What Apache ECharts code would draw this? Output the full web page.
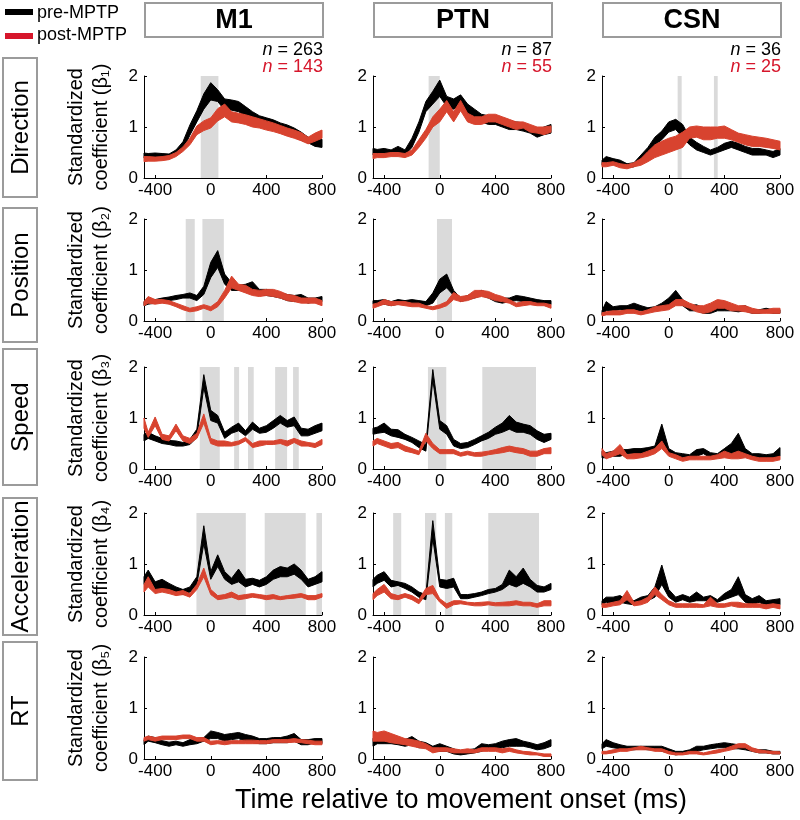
<!DOCTYPE html>
<html><head><meta charset="utf-8">
<script src="https://cdn.jsdelivr.net/npm/echarts@6/dist/echarts.min.js"></script>
<style>html,body{margin:0;padding:0;background:#fff}#c{width:800px;height:820px}</style>
</head><body><div id="c"></div>
<script>
// ---------- data ----------
const times = [-480,-450,-400,-350,-300,-250,-200,-150,-100,-50,0,50,100,150,200,250,300,350,400,450,500,550,600,650,700,750,800];
const xTickValues = [-400, 0, 400, 800];
const regions = ['M1', 'PTN', 'CSN'];
const variables = ['Direction', 'Position', 'Speed', 'Acceleration', 'RT'];
const betaLabels = ['β₁', 'β₂', 'β₃', 'β₄', 'β₅'];
const nPre = [263, 87, 36];
const nPost = [143, 55, 25];
const legendLabels = ['pre-MPTP', 'post-MPTP'];
const xTitle = 'Time relative to movement onset (ms)';

// bands: [lower, upper] at each time
const m1DirectionPre = [[0.39,0.49],[0.40,0.48],[0.41,0.49],[0.40,0.48],[0.40,0.47],[0.44,0.55],[0.55,0.71],[0.84,1.04],[1.10,1.32],[1.35,1.65],[1.53,1.87],[1.50,1.73],[1.33,1.55],[1.33,1.53],[1.30,1.50],[1.22,1.40],[1.10,1.30],[1.02,1.22],[1.00,1.18],[0.98,1.14],[0.92,1.08],[0.87,1.04],[0.80,0.98],[0.74,0.90],[0.69,0.80],[0.62,0.76],[0.60,0.76]];
const m1DirectionPost = [[0.32,0.42],[0.33,0.42],[0.33,0.41],[0.34,0.42],[0.36,0.44],[0.42,0.50],[0.52,0.61],[0.65,0.78],[0.85,1.02],[0.93,1.12],[0.98,1.18],[1.12,1.36],[1.20,1.45],[1.10,1.30],[1.08,1.27],[1.05,1.24],[1.00,1.20],[0.98,1.16],[0.94,1.12],[0.91,1.08],[0.87,1.03],[0.82,0.98],[0.78,0.94],[0.73,0.89],[0.67,0.80],[0.72,0.88],[0.78,0.94]];
const ptnDirectionPre = [[0.45,0.58],[0.48,0.56],[0.48,0.58],[0.48,0.55],[0.50,0.62],[0.45,0.55],[0.60,0.78],[0.90,1.10],[1.30,1.50],[1.45,1.70],[1.60,1.92],[1.40,1.60],[1.35,1.55],[1.42,1.63],[1.25,1.45],[1.18,1.35],[1.10,1.25],[1.05,1.22],[1.05,1.20],[1.00,1.15],[0.95,1.12],[0.95,1.10],[0.92,1.08],[0.88,1.02],[0.80,0.95],[0.85,1.00],[0.88,1.05]];
const ptnDirectionPost = [[0.38,0.48],[0.40,0.48],[0.40,0.48],[0.42,0.50],[0.42,0.50],[0.40,0.48],[0.45,0.55],[0.60,0.75],[0.78,0.95],[1.00,1.20],[1.10,1.35],[1.30,1.52],[1.10,1.30],[1.32,1.52],[1.10,1.27],[1.05,1.20],[1.05,1.20],[1.10,1.25],[1.10,1.25],[1.05,1.20],[1.00,1.15],[0.95,1.10],[0.98,1.10],[0.90,1.05],[0.88,1.00],[0.85,1.00],[0.90,1.02]];
const csnDirectionPre = [[0.25,0.35],[0.30,0.42],[0.28,0.38],[0.25,0.35],[0.20,0.28],[0.22,0.30],[0.30,0.45],[0.45,0.60],[0.65,0.80],[0.75,0.92],[0.90,1.10],[0.95,1.15],[0.80,1.05],[0.65,0.80],[0.55,0.70],[0.50,0.62],[0.45,0.55],[0.50,0.60],[0.55,0.68],[0.60,0.72],[0.55,0.68],[0.50,0.62],[0.45,0.58],[0.45,0.58],[0.45,0.55],[0.40,0.52],[0.45,0.58]];
const csnDirectionPost = [[0.22,0.30],[0.22,0.30],[0.25,0.32],[0.20,0.28],[0.18,0.26],[0.22,0.30],[0.25,0.38],[0.32,0.52],[0.40,0.65],[0.45,0.72],[0.50,0.78],[0.55,0.82],[0.60,0.90],[0.78,1.00],[0.80,1.02],[0.75,1.00],[0.75,1.00],[0.78,1.00],[0.78,1.02],[0.75,0.95],[0.70,0.88],[0.65,0.85],[0.62,0.82],[0.62,0.80],[0.60,0.78],[0.58,0.75],[0.55,0.72]];

const m1PositionPre = [[0.30,0.38],[0.33,0.40],[0.35,0.42],[0.38,0.45],[0.40,0.47],[0.42,0.50],[0.45,0.52],[0.45,0.55],[0.40,0.50],[0.52,0.68],[0.85,1.15],[1.05,1.38],[0.72,0.92],[0.60,0.75],[0.60,0.70],[0.60,0.72],[0.62,0.77],[0.50,0.62],[0.50,0.62],[0.48,0.60],[0.45,0.55],[0.40,0.52],[0.38,0.50],[0.40,0.52],[0.35,0.45],[0.38,0.45],[0.38,0.48]];
const m1PositionPost = [[0.30,0.38],[0.35,0.48],[0.33,0.42],[0.35,0.42],[0.33,0.40],[0.28,0.35],[0.22,0.30],[0.18,0.25],[0.20,0.28],[0.25,0.32],[0.20,0.28],[0.28,0.38],[0.45,0.60],[0.65,0.88],[0.60,0.72],[0.55,0.70],[0.50,0.62],[0.48,0.60],[0.50,0.62],[0.48,0.62],[0.45,0.58],[0.40,0.52],[0.38,0.50],[0.35,0.45],[0.35,0.45],[0.35,0.45],[0.30,0.40]];
const ptnPositionPre = [[0.33,0.40],[0.33,0.40],[0.33,0.42],[0.30,0.38],[0.33,0.42],[0.33,0.40],[0.35,0.42],[0.33,0.40],[0.30,0.38],[0.35,0.55],[0.55,0.82],[0.65,0.92],[0.50,0.60],[0.38,0.45],[0.42,0.50],[0.45,0.55],[0.50,0.60],[0.45,0.55],[0.38,0.48],[0.35,0.45],[0.38,0.45],[0.40,0.50],[0.38,0.48],[0.38,0.45],[0.35,0.42],[0.32,0.40],[0.32,0.40]];
const ptnPositionPost = [[0.25,0.33],[0.28,0.35],[0.33,0.42],[0.30,0.38],[0.32,0.38],[0.30,0.38],[0.28,0.35],[0.28,0.35],[0.25,0.30],[0.22,0.28],[0.25,0.32],[0.30,0.38],[0.42,0.56],[0.38,0.48],[0.40,0.50],[0.45,0.60],[0.48,0.60],[0.45,0.58],[0.40,0.52],[0.38,0.48],[0.35,0.42],[0.28,0.35],[0.30,0.38],[0.32,0.38],[0.30,0.35],[0.30,0.35],[0.25,0.32]];
const csnPositionPre = [[0.12,0.20],[0.20,0.38],[0.20,0.28],[0.22,0.30],[0.20,0.30],[0.22,0.35],[0.20,0.30],[0.18,0.26],[0.20,0.28],[0.25,0.35],[0.30,0.45],[0.35,0.60],[0.30,0.42],[0.20,0.30],[0.20,0.32],[0.15,0.25],[0.15,0.25],[0.20,0.30],[0.20,0.30],[0.20,0.28],[0.18,0.28],[0.20,0.30],[0.15,0.22],[0.15,0.22],[0.18,0.25],[0.15,0.22],[0.15,0.22]];
const csnPositionPost = [[0.10,0.16],[0.12,0.18],[0.12,0.20],[0.12,0.20],[0.15,0.22],[0.15,0.22],[0.12,0.18],[0.15,0.22],[0.18,0.28],[0.20,0.30],[0.22,0.32],[0.30,0.42],[0.30,0.42],[0.25,0.35],[0.18,0.30],[0.15,0.30],[0.18,0.35],[0.25,0.42],[0.25,0.40],[0.20,0.35],[0.20,0.30],[0.18,0.30],[0.15,0.25],[0.15,0.22],[0.15,0.22],[0.15,0.25],[0.15,0.25]];

const m1SpeedPre = [[0.55,0.68],[0.60,0.72],[0.55,0.65],[0.50,0.60],[0.48,0.56],[0.45,0.55],[0.45,0.52],[0.48,0.58],[0.62,0.78],[1.60,1.85],[0.95,1.15],[0.90,1.05],[0.60,0.72],[0.70,0.82],[0.75,0.90],[0.65,0.75],[0.78,0.92],[0.70,0.80],[0.72,0.85],[0.80,0.95],[0.90,1.05],[0.82,0.95],[0.85,1.02],[0.65,0.80],[0.65,0.78],[0.70,0.85],[0.75,0.90]];
const m1SpeedPost = [[0.80,1.00],[0.62,0.72],[0.85,1.02],[0.58,0.68],[0.55,0.65],[0.75,0.88],[0.55,0.65],[0.50,0.60],[0.60,0.70],[0.90,1.08],[0.50,0.60],[0.45,0.55],[0.45,0.55],[0.45,0.52],[0.48,0.55],[0.55,0.62],[0.42,0.50],[0.45,0.55],[0.48,0.55],[0.48,0.55],[0.50,0.58],[0.45,0.55],[0.52,0.60],[0.45,0.55],[0.45,0.52],[0.42,0.50],[0.48,0.58]];
const ptnSpeedPre = [[0.68,0.80],[0.70,0.82],[0.72,0.90],[0.65,0.78],[0.62,0.77],[0.58,0.68],[0.52,0.62],[0.42,0.55],[0.35,0.48],[1.75,1.95],[0.78,0.95],[0.68,0.85],[0.45,0.58],[0.40,0.50],[0.42,0.52],[0.48,0.58],[0.55,0.65],[0.60,0.72],[0.68,0.82],[0.72,0.90],[0.78,1.05],[0.72,0.92],[0.72,0.88],[0.68,0.85],[0.58,0.75],[0.52,0.68],[0.58,0.70]];
const ptnSpeedPost = [[0.45,0.55],[0.50,0.60],[0.45,0.55],[0.40,0.50],[0.42,0.52],[0.35,0.45],[0.32,0.40],[0.28,0.35],[0.55,0.70],[0.40,0.50],[0.30,0.38],[0.30,0.38],[0.30,0.38],[0.25,0.32],[0.28,0.35],[0.25,0.32],[0.25,0.33],[0.28,0.35],[0.30,0.38],[0.32,0.42],[0.35,0.45],[0.32,0.42],[0.30,0.40],[0.25,0.35],[0.25,0.35],[0.30,0.40],[0.30,0.42]];
const csnSpeedPre = [[0.22,0.35],[0.22,0.32],[0.25,0.35],[0.25,0.38],[0.30,0.38],[0.30,0.40],[0.30,0.40],[0.30,0.42],[0.35,0.45],[0.45,0.88],[0.30,0.40],[0.25,0.32],[0.22,0.30],[0.20,0.28],[0.25,0.38],[0.30,0.40],[0.22,0.32],[0.22,0.30],[0.28,0.40],[0.30,0.50],[0.35,0.70],[0.25,0.40],[0.20,0.30],[0.20,0.30],[0.20,0.28],[0.20,0.30],[0.25,0.42]];
const csnSpeedPost = [[0.28,0.40],[0.20,0.30],[0.25,0.35],[0.30,0.48],[0.20,0.28],[0.20,0.30],[0.22,0.30],[0.25,0.35],[0.30,0.40],[0.40,0.55],[0.25,0.32],[0.20,0.28],[0.15,0.22],[0.18,0.25],[0.18,0.25],[0.18,0.25],[0.18,0.25],[0.20,0.28],[0.22,0.35],[0.20,0.30],[0.20,0.35],[0.22,0.30],[0.18,0.25],[0.15,0.22],[0.15,0.22],[0.15,0.22],[0.18,0.25]];

const m1AccelerationPre = [[0.60,0.75],[0.65,0.88],[0.50,0.65],[0.50,0.70],[0.50,0.62],[0.45,0.55],[0.40,0.50],[0.45,0.55],[0.60,0.75],[1.40,1.75],[0.70,0.85],[0.95,1.18],[0.70,0.85],[0.60,0.72],[0.65,0.90],[0.55,0.70],[0.60,0.72],[0.55,0.68],[0.60,0.75],[0.70,0.88],[0.75,0.95],[0.75,0.92],[0.80,1.00],[0.70,0.88],[0.55,0.70],[0.60,0.75],[0.65,0.85]];
const m1AccelerationPost = [[0.45,0.60],[0.55,0.75],[0.42,0.50],[0.45,0.52],[0.42,0.50],[0.38,0.45],[0.40,0.48],[0.35,0.42],[0.50,0.60],[0.75,0.92],[0.40,0.50],[0.30,0.38],[0.32,0.40],[0.35,0.45],[0.30,0.38],[0.32,0.40],[0.35,0.42],[0.33,0.40],[0.30,0.38],[0.32,0.40],[0.30,0.36],[0.32,0.38],[0.33,0.40],[0.35,0.42],[0.30,0.38],[0.30,0.38],[0.35,0.42]];
const ptnAccelerationPre = [[0.55,0.70],[0.62,0.78],[0.68,0.85],[0.55,0.68],[0.58,0.65],[0.52,0.62],[0.45,0.55],[0.35,0.45],[0.30,0.40],[1.50,1.85],[0.55,0.70],[0.52,0.68],[0.55,0.72],[0.32,0.40],[0.32,0.40],[0.35,0.42],[0.38,0.45],[0.42,0.50],[0.45,0.52],[0.50,0.60],[0.60,0.88],[0.55,0.75],[0.62,0.92],[0.55,0.70],[0.45,0.58],[0.45,0.55],[0.50,0.62]];
const ptnAccelerationPost = [[0.30,0.42],[0.38,0.50],[0.45,0.60],[0.32,0.42],[0.30,0.38],[0.35,0.42],[0.30,0.38],[0.22,0.30],[0.40,0.52],[0.42,0.58],[0.25,0.32],[0.13,0.22],[0.20,0.28],[0.22,0.28],[0.20,0.25],[0.18,0.24],[0.18,0.25],[0.20,0.26],[0.18,0.24],[0.18,0.25],[0.18,0.26],[0.20,0.28],[0.18,0.25],[0.18,0.25],[0.15,0.22],[0.18,0.28],[0.18,0.28]];
const csnAccelerationPre = [[0.20,0.28],[0.25,0.35],[0.22,0.35],[0.25,0.38],[0.22,0.30],[0.20,0.28],[0.25,0.35],[0.28,0.38],[0.35,0.55],[0.60,0.98],[0.35,0.50],[0.25,0.35],[0.30,0.40],[0.25,0.35],[0.28,0.45],[0.28,0.35],[0.28,0.38],[0.25,0.30],[0.30,0.42],[0.35,0.50],[0.40,0.75],[0.25,0.40],[0.20,0.32],[0.25,0.38],[0.18,0.28],[0.22,0.30],[0.20,0.32]];
const csnAccelerationPost = [[0.15,0.22],[0.15,0.22],[0.18,0.25],[0.20,0.28],[0.30,0.48],[0.18,0.25],[0.20,0.28],[0.25,0.35],[0.40,0.55],[0.30,0.40],[0.20,0.28],[0.15,0.22],[0.15,0.22],[0.15,0.22],[0.15,0.22],[0.15,0.20],[0.18,0.35],[0.15,0.22],[0.15,0.22],[0.18,0.25],[0.15,0.25],[0.15,0.22],[0.15,0.22],[0.15,0.22],[0.12,0.20],[0.15,0.22],[0.12,0.20]];

const m1RTPre = [[0.28,0.38],[0.35,0.45],[0.32,0.42],[0.28,0.36],[0.25,0.33],[0.28,0.35],[0.25,0.32],[0.28,0.38],[0.30,0.40],[0.35,0.42],[0.40,0.55],[0.40,0.52],[0.35,0.48],[0.38,0.50],[0.40,0.52],[0.35,0.48],[0.32,0.45],[0.30,0.40],[0.30,0.40],[0.32,0.42],[0.32,0.42],[0.32,0.45],[0.35,0.50],[0.28,0.38],[0.28,0.38],[0.32,0.40],[0.30,0.40]];
const m1RTPost = [[0.35,0.42],[0.38,0.45],[0.35,0.42],[0.38,0.45],[0.38,0.45],[0.38,0.45],[0.40,0.47],[0.40,0.47],[0.35,0.42],[0.35,0.42],[0.28,0.35],[0.30,0.36],[0.28,0.35],[0.30,0.36],[0.30,0.36],[0.30,0.37],[0.30,0.37],[0.30,0.36],[0.30,0.36],[0.32,0.38],[0.32,0.38],[0.32,0.38],[0.33,0.40],[0.32,0.38],[0.30,0.37],[0.28,0.35],[0.28,0.35]];
const ptnRTPre = [[0.25,0.40],[0.30,0.50],[0.30,0.45],[0.30,0.42],[0.28,0.40],[0.25,0.38],[0.28,0.44],[0.22,0.35],[0.22,0.32],[0.15,0.25],[0.15,0.30],[0.15,0.25],[0.10,0.20],[0.08,0.15],[0.10,0.18],[0.12,0.20],[0.15,0.30],[0.20,0.28],[0.20,0.30],[0.22,0.35],[0.25,0.38],[0.25,0.40],[0.25,0.35],[0.22,0.32],[0.18,0.28],[0.20,0.32],[0.25,0.38]];
const ptnRTPost = [[0.35,0.55],[0.35,0.52],[0.35,0.55],[0.32,0.50],[0.30,0.45],[0.28,0.40],[0.25,0.38],[0.22,0.35],[0.20,0.30],[0.12,0.22],[0.15,0.22],[0.15,0.22],[0.12,0.20],[0.12,0.18],[0.12,0.20],[0.12,0.18],[0.15,0.22],[0.15,0.22],[0.15,0.22],[0.12,0.20],[0.15,0.22],[0.12,0.18],[0.10,0.15],[0.08,0.14],[0.08,0.12],[0.05,0.10],[0.05,0.10]];
const csnRTPre = [[0.20,0.30],[0.25,0.38],[0.22,0.32],[0.20,0.28],[0.18,0.25],[0.18,0.25],[0.20,0.25],[0.18,0.25],[0.18,0.25],[0.15,0.25],[0.12,0.20],[0.08,0.15],[0.10,0.15],[0.12,0.18],[0.15,0.25],[0.18,0.25],[0.20,0.28],[0.22,0.30],[0.22,0.32],[0.20,0.30],[0.20,0.28],[0.18,0.25],[0.15,0.20],[0.12,0.18],[0.12,0.18],[0.10,0.15],[0.10,0.15]];
const csnRTPost = [[0.10,0.15],[0.10,0.15],[0.12,0.18],[0.15,0.20],[0.15,0.20],[0.18,0.22],[0.18,0.25],[0.18,0.22],[0.15,0.20],[0.15,0.20],[0.10,0.15],[0.08,0.12],[0.08,0.12],[0.10,0.15],[0.10,0.15],[0.08,0.12],[0.10,0.15],[0.12,0.18],[0.15,0.20],[0.18,0.25],[0.22,0.30],[0.22,0.30],[0.15,0.22],[0.12,0.18],[0.12,0.16],[0.10,0.15],[0.10,0.14]];

// significant-difference windows (ms)
const m1DirectionShade = [[-72,55]];
const ptnDirectionShade = [[-80,0]];
const csnDirectionShade = [[64,93],[325,352]];
const m1PositionShade = [[-180,-115],[-60,94]];
const ptnPositionShade = [[-20,88]];
const csnPositionShade = [];
const m1SpeedShade = [[-79,65],[168,204],[268,309],[463,549],[592,633]];
const ptnSpeedShade = [[-85,47],[306,692]];
const csnSpeedShade = [];
const m1AccelerationShade = [[-103,252],[388,683],[760,800]];
const ptnAccelerationShade = [[-335,-277],[-106,-25],[37,90],[349,714]];
const csnAccelerationShade = [];
const m1RTShade = [];
const ptnRTShade = [];
const csnRTShade = [];

// ---------- assemble ----------
const preBands = [
  [m1DirectionPre, ptnDirectionPre, csnDirectionPre],
  [m1PositionPre, ptnPositionPre, csnPositionPre],
  [m1SpeedPre, ptnSpeedPre, csnSpeedPre],
  [m1AccelerationPre, ptnAccelerationPre, csnAccelerationPre],
  [m1RTPre, ptnRTPre, csnRTPre]
];
const postBands = [
  [m1DirectionPost, ptnDirectionPost, csnDirectionPost],
  [m1PositionPost, ptnPositionPost, csnPositionPost],
  [m1SpeedPost, ptnSpeedPost, csnSpeedPost],
  [m1AccelerationPost, ptnAccelerationPost, csnAccelerationPost],
  [m1RTPost, ptnRTPost, csnRTPost]
];
const shades = [
  [m1DirectionShade, ptnDirectionShade, csnDirectionShade],
  [m1PositionShade, ptnPositionShade, csnPositionShade],
  [m1SpeedShade, ptnSpeedShade, csnSpeedShade],
  [m1AccelerationShade, ptnAccelerationShade, csnAccelerationShade],
  [m1RTShade, ptnRTShade, csnRTShade]
];

const FONT = '"Liberation Sans", Arial, Helvetica, sans-serif';
const PRE_COLOR = '#000000';
const POST_COLOR = '#d8432f';
const LEGEND_RED = '#d6162b';
const SHADE_COLOR = '#dadada';
const BOX_COLOR = '#9b9b9b';

const colLeft = [144, 373, 602];
const colW = 178;
const rowTop = [76, 219, 367, 513, 657];
const rowH = 102;

const grids = [], xAxes = [], yAxes = [], series = [];

// confidence band drawn as a polygon through the axis scales
function band(g, arr, color, z) {
  series.push({
    type: 'custom', xAxisIndex: g, yAxisIndex: g, silent: true, animation: false, z: z,
    encode: { x: 0, y: [1, 2] },
    data: times.map((t, i) => [t, arr[i][0], arr[i][1]]),
    renderItem: function (params, api) {
      if (params.dataIndex !== 0) return null;
      const upper = [], lower = [];
      for (let i = 0; i < times.length; i++) {
        upper.push(api.coord([times[i], arr[i][1]]));
        lower.push(api.coord([times[i], arr[i][0]]));
      }
      const pts = upper.concat(lower.reverse());
      return {
        type: 'polygon',
        shape: { points: pts },
        style: { fill: color, stroke: color, lineWidth: 1, lineJoin: 'round' }
      };
    }
  });
}

for (let r = 0; r < variables.length; r++) {
  for (let c = 0; c < regions.length; c++) {
    const g = grids.length;
    grids.push({ left: colLeft[c], top: rowTop[r], width: colW, height: rowH, containLabel: false });
    xAxes.push({
      gridIndex: g, type: 'value', min: -480, max: 800,
      axisLine: { show: true, onZero: false, lineStyle: { color: '#000', width: 1 } },
      axisTick: { show: true, inside: true, length: 3, customValues: xTickValues, lineStyle: { color: '#000' } },
      axisLabel: { customValues: xTickValues, fontSize: 17, color: '#000', margin: 4, fontFamily: FONT },
      splitLine: { show: false }
    });
    const yAx = {
      gridIndex: g, type: 'value', min: 0, max: 2, interval: 1,
      axisLine: { show: true, onZero: false, lineStyle: { color: '#000', width: 1 } },
      axisTick: { show: true, inside: true, length: 3, lineStyle: { color: '#000' } },
      axisLabel: { fontSize: 17, color: '#000', margin: 6, fontFamily: FONT },
      splitLine: { show: false }
    };
    if (c === 0) {
      yAx.name = 'Standardized\ncoefficient (' + betaLabels[r] + ')';
      yAx.nameLocation = 'middle';
      yAx.nameRotate = 90;
      yAx.nameGap = 30;
      yAx.nameTextStyle = { fontSize: 20, lineHeight: 25, color: '#000', fontFamily: FONT };
    }
    yAxes.push(yAx);
    series.push({
      type: 'line', xAxisIndex: g, yAxisIndex: g, data: [], silent: true, z: 1, animation: false,
      markArea: {
        silent: true, itemStyle: { color: SHADE_COLOR },
        data: shades[r][c].map(s => [{ xAxis: s[0] }, { xAxis: s[1] }])
      }
    });
    band(g, preBands[r][c], PRE_COLOR, 2);
    band(g, postBands[r][c], POST_COLOR, 3);
  }
}

// ---------- decorations ----------
const graphic = [];
graphic.push({ type: 'rect', shape: { x: 5, y: 9, width: 28, height: 6 }, style: { fill: PRE_COLOR } });
graphic.push({ type: 'text', x: 37, y: 13, style: { text: legendLabels[0], font: '18px ' + FONT, fill: '#000', verticalAlign: 'middle', textVerticalAlign: 'middle' } });
graphic.push({ type: 'rect', shape: { x: 5, y: 33, width: 28, height: 6 }, style: { fill: LEGEND_RED } });
graphic.push({ type: 'text', x: 37, y: 35, style: { text: legendLabels[1], font: '18px ' + FONT, fill: '#000', verticalAlign: 'middle', textVerticalAlign: 'middle' } });
for (let c = 0; c < regions.length; c++) {
  graphic.push({ type: 'rect', shape: { x: colLeft[c] + 1, y: 3, width: colW, height: 34 }, style: { fill: '#fff', stroke: BOX_COLOR, lineWidth: 2 } });
  graphic.push({ type: 'text', x: colLeft[c] + 1 + colW / 2, y: 21, style: { text: regions[c], font: 'bold 27px ' + FONT, fill: '#000', align: 'center', textAlign: 'center', verticalAlign: 'middle', textVerticalAlign: 'middle' } });
  const right = colLeft[c] + colW + 1;
  graphic.push({ type: 'text', x: right, y: 50, style: { text: '{i|n} = ' + nPre[c], font: '18px ' + FONT, fill: '#000', align: 'right', textAlign: 'right', verticalAlign: 'middle', textVerticalAlign: 'middle', rich: { i: { fontStyle: 'italic', fontSize: 18, fontFamily: FONT, fill: '#000', color: '#000' } } } });
  graphic.push({ type: 'text', x: right, y: 67, style: { text: '{i|n} = ' + nPost[c], font: '18px ' + FONT, fill: LEGEND_RED, align: 'right', textAlign: 'right', verticalAlign: 'middle', textVerticalAlign: 'middle', rich: { i: { fontStyle: 'italic', fontSize: 18, fontFamily: FONT, fill: LEGEND_RED, color: LEGEND_RED } } } });
}
const rowBoxTop = [58, 208, 349, 498, 642];
const rowBoxH = [139, 134, 136, 137, 138];
for (let r = 0; r < variables.length; r++) {
  graphic.push({ type: 'rect', shape: { x: 3, y: rowBoxTop[r], width: 34, height: rowBoxH[r] }, style: { fill: '#fff', stroke: BOX_COLOR, lineWidth: 2 } });
  graphic.push({ type: 'text', x: 21, y: rowBoxTop[r] + rowBoxH[r] / 2, rotation: Math.PI / 2, style: { text: variables[r], font: '24px ' + FONT, fill: '#000', align: 'center', textAlign: 'center', verticalAlign: 'middle', textVerticalAlign: 'middle' } });
}
graphic.push({ type: 'text', x: 461, y: 801, style: { text: xTitle, font: '27px ' + FONT, fill: '#000', align: 'center', textAlign: 'center', verticalAlign: 'middle', textVerticalAlign: 'middle' } });

const chart = echarts.init(document.getElementById('c'), null, { renderer: 'canvas' });
chart.setOption({
  animation: false,
  backgroundColor: '#fff',
  grid: grids, xAxis: xAxes, yAxis: yAxes, series: series,
  graphic: graphic
});
</script></body></html>
